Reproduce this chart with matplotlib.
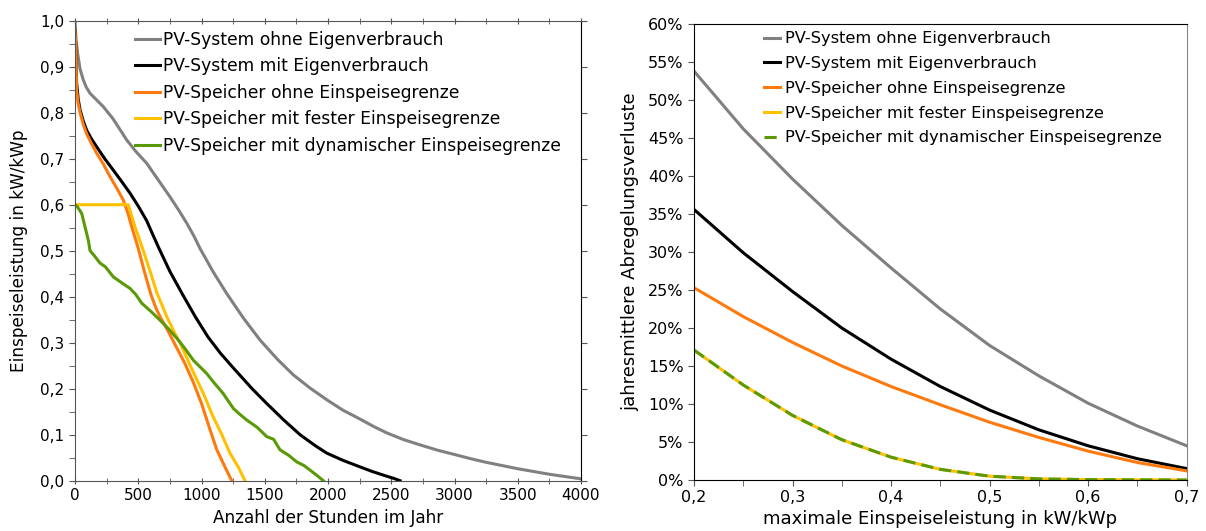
import matplotlib
matplotlib.use("Agg")
import matplotlib.pyplot as plt
from matplotlib.ticker import MultipleLocator, FuncFormatter

plt.rcParams['font.family'] = ['DejaVu Sans']

labels = ["PV-System ohne Eigenverbrauch", "PV-System mit Eigenverbrauch",
          "PV-Speicher ohne Einspeisegrenze", "PV-Speicher mit fester Einspeisegrenze",
          "PV-Speicher mit dynamischer Einspeisegrenze"]
colors = ["#808080", "#000000", "#FF7A0E", "#FFC000", "#5A9A08"]

# Left chart: duration curves (hours, kW/kWp)
gray_h = [0, 8, 20, 40, 66, 90, 119, 170, 224, 300, 408, 480, 567, 650, 751, 820, 883, 940, 988, 1090, 1199, 1330,
          1462, 1600, 1726, 1860, 1990, 2120, 2253, 2360, 2464, 2600, 2750, 2870, 3000, 3125, 3250, 3375, 3500,
          3625, 3750, 3875, 4000]
gray_v = [1.0, 0.96, 0.93, 0.895, 0.871, 0.855, 0.842, 0.828, 0.813, 0.787, 0.741, 0.716, 0.69, 0.657, 0.617, 0.588,
          0.56, 0.532, 0.505, 0.455, 0.407, 0.354, 0.306, 0.264, 0.23, 0.201, 0.176, 0.153, 0.134, 0.118, 0.104,
          0.089, 0.076, 0.066, 0.057, 0.048, 0.040, 0.033, 0.026, 0.020, 0.014, 0.009, 0.004]
black_h = [0, 5, 9, 13, 25, 40, 65, 92, 130, 171, 235, 303, 370, 435, 500, 567, 610, 659, 750, 850, 950, 1050, 1150,
           1252, 1400, 1515, 1650, 1779, 1900, 1990, 2120, 2253, 2350, 2450, 2520, 2570]
black_v = [0.98, 0.95, 0.90, 0.864, 0.83, 0.806, 0.782, 0.762, 0.743, 0.726, 0.70, 0.675, 0.65, 0.625, 0.597, 0.565,
           0.538, 0.508, 0.455, 0.405, 0.357, 0.313, 0.277, 0.245, 0.20, 0.168, 0.132, 0.10, 0.076, 0.06, 0.044,
           0.030, 0.020, 0.011, 0.005, 0.0]
orange_h = [0, 5, 9, 13, 25, 40, 65, 92, 130, 171, 225, 277, 330, 382, 420, 448, 475, 500, 550, 600, 640, 672, 740,
            804, 870, 935, 1000, 1060, 1120, 1180, 1239]
orange_v = [0.98, 0.95, 0.90, 0.849, 0.82, 0.80, 0.775, 0.754, 0.733, 0.712, 0.688, 0.661, 0.636, 0.61, 0.58, 0.552,
            0.528, 0.505, 0.453, 0.405, 0.375, 0.357, 0.323, 0.289, 0.254, 0.214, 0.168, 0.117, 0.068, 0.033, 0.0]
yellow_h = [0, 421, 474, 540, 600, 645, 725, 790, 830, 920, 1014, 1090, 1161, 1225, 1290, 1344]
yellow_v = [0.6, 0.6, 0.552, 0.5, 0.45, 0.41, 0.357, 0.32, 0.30, 0.245, 0.19, 0.14, 0.10, 0.06, 0.03, 0.0]
green_h = [0, 20, 53, 79, 105, 119, 150, 198, 240, 303, 360, 435, 480, 527, 600, 672, 740, 804, 870, 935, 990, 1041,
           1093, 1170, 1252, 1300, 1357, 1440, 1515, 1570, 1621, 1690, 1752, 1810, 1858, 1910, 1963]
green_v = [0.6, 0.595, 0.581, 0.552, 0.523, 0.50, 0.49, 0.473, 0.465, 0.443, 0.432, 0.418, 0.405, 0.386, 0.368, 0.349,
           0.33, 0.31, 0.287, 0.262, 0.247, 0.233, 0.215, 0.19, 0.157, 0.145, 0.132, 0.116, 0.096, 0.09, 0.067,
           0.055, 0.041, 0.033, 0.023, 0.012, 0.0]

# Right chart: curtailment losses vs max feed-in (kW/kWp, %)
p = [0.2, 0.25, 0.3, 0.35, 0.4, 0.45, 0.5, 0.55, 0.6, 0.65, 0.7]
loss_gray = [53.8, 46.2, 39.6, 33.5, 27.9, 22.5, 17.7, 13.7, 10.1, 7.1, 4.5]
loss_black = [35.6, 29.9, 24.8, 20.0, 15.9, 12.3, 9.2, 6.6, 4.5, 2.8, 1.5]
loss_orange = [25.3, 21.5, 18.1, 15.0, 12.3, 9.9, 7.6, 5.6, 3.8, 2.3, 1.2]
loss_fixed = [17.1, 12.5, 8.5, 5.3, 3.0, 1.4, 0.5, 0.15, 0.05, 0.02, 0.0]
loss_dyn = [17.1, 12.5, 8.5, 5.3, 3.0, 1.4, 0.5, 0.15, 0.05, 0.02, 0.0]

fig = plt.figure(figsize=(12.06, 5.31), dpi=100)
FS = 11
lw = 2.2

# ---------- left ----------
ax1 = fig.add_axes([75/1206, 1-480.7/531, 506/1206, 460/531])
ax1.plot(gray_h, gray_v, color=colors[0], lw=lw, label=labels[0])
ax1.plot(black_h, black_v, color=colors[1], lw=lw, label=labels[1])
ax1.plot(orange_h, orange_v, color=colors[2], lw=lw, label=labels[2])
ax1.plot(yellow_h, yellow_v, color=colors[3], lw=lw, label=labels[3])
ax1.plot(green_h, green_v, color=colors[4], lw=lw, label=labels[4])
ax1.set_xlim(0, 4000)
ax1.set_ylim(0, 1.0)
ax1.xaxis.set_major_locator(MultipleLocator(500))
ax1.xaxis.set_minor_locator(MultipleLocator(250))
ax1.yaxis.set_major_locator(MultipleLocator(0.1))
ax1.yaxis.set_minor_locator(MultipleLocator(0.05))
ax1.yaxis.set_major_formatter(FuncFormatter(lambda v, _: f"{v:.1f}".replace('.', ',')))
ax1.tick_params(axis='both', which='both', labelsize=FS, colors='#555555', labelcolor='black', length=4)
ax1.tick_params(axis='x', which='both', direction='inout', top=True)
ax1.tick_params(axis='y', which='both', direction='out')
ax1.tick_params(axis='y', which='major', right=True)
for s in ['left', 'bottom', 'top']:
    ax1.spines[s].set_color('#555555')
ax1.spines['right'].set_color('black')
ax1.set_xlabel("Anzahl der Stunden im Jahr", fontsize=12.2, labelpad=4)
ax1.set_ylabel("Einspeiseleistung in kW/kWp", fontsize=12.2, labelpad=9)
ax1.legend(loc='upper left', bbox_to_anchor=(0.095, 1.004), frameon=False, fontsize=12.3,
           handlelength=1.45, handletextpad=0.2, labelspacing=0.5, borderaxespad=0.3)

# ---------- right ----------
ax2 = fig.add_axes([694/1206, 1-480/531, 492.7/1206, 456/531])
ax2.plot(p, loss_gray, color=colors[0], lw=lw, label=labels[0])
ax2.plot(p, loss_black, color=colors[1], lw=lw, label=labels[1])
ax2.plot(p, loss_orange, color=colors[2], lw=lw, label=labels[2])
ax2.plot(p, loss_fixed, color=colors[3], lw=lw, label=labels[3])
ax2.plot(p, loss_dyn, color=colors[4], lw=lw, ls=(0, (4, 2)), label=labels[4])
ax2.set_xlim(0.2, 0.7)
ax2.set_ylim(0, 60)
ax2.xaxis.set_major_locator(MultipleLocator(0.1))
ax2.xaxis.set_minor_locator(MultipleLocator(0.05))
ax2.yaxis.set_major_locator(MultipleLocator(5))
ax2.xaxis.set_major_formatter(FuncFormatter(lambda v, _: f"{v:.1f}".replace('.', ',')))
ax2.yaxis.set_major_formatter(FuncFormatter(lambda v, _: f"{v:.0f}%"))
ax2.tick_params(axis='both', which='both', labelsize=11.5, direction='out', length=4,
                colors='#555555', labelcolor='black')
for s in ['left', 'bottom', 'top']:
    ax2.spines[s].set_color('black')
ax2.spines['right'].set_color('#888888')
ax2.set_xlabel("maximale Einspeiseleistung in kW/kWp", fontsize=13, labelpad=3)
ax2.set_ylabel("jahresmittlere Abregelungsverluste", fontsize=13, labelpad=6)
ax2.legend(loc='upper left', bbox_to_anchor=(0.119, 1.009), frameon=False, fontsize=11.7,
           handlelength=1.0, handletextpad=0.3, labelspacing=0.6, borderaxespad=0.3)

fig.savefig("out.png", dpi=100)
